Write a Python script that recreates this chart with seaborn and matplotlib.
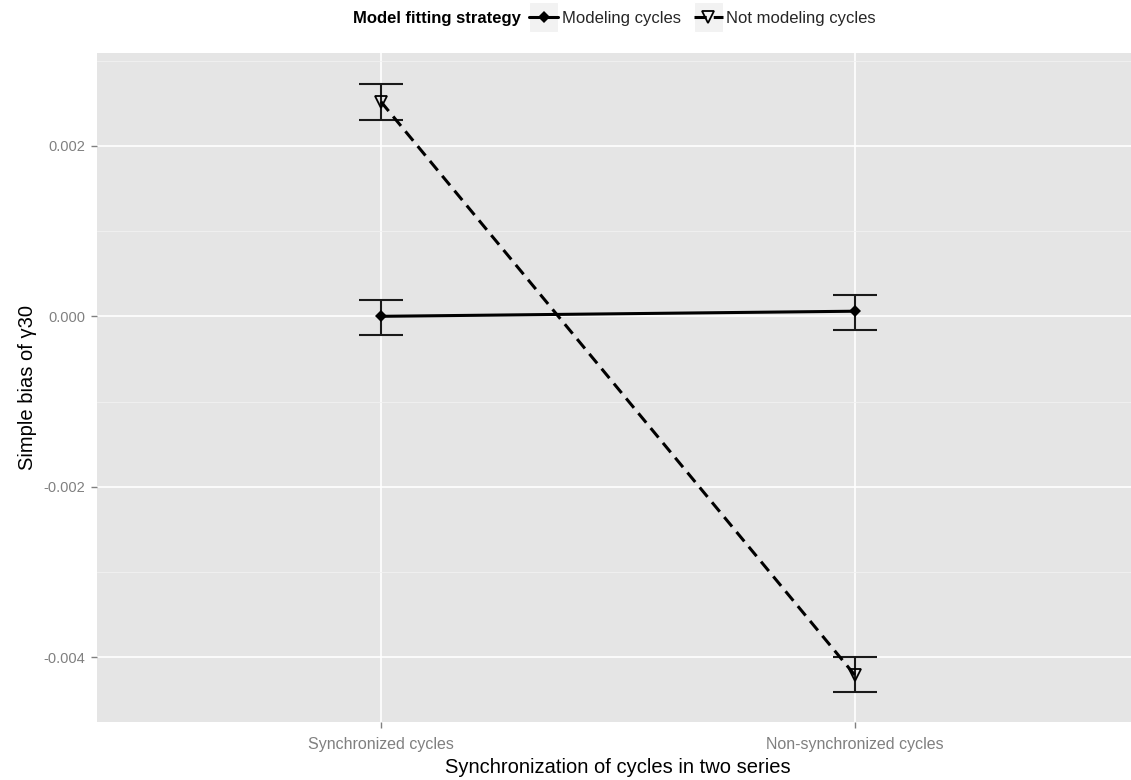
import matplotlib
matplotlib.use("Agg")
import matplotlib.pyplot as plt
from matplotlib.lines import Line2D
from matplotlib.patches import Rectangle
from matplotlib.legend_handler import HandlerLine2D
from matplotlib.ticker import FixedLocator, FixedFormatter
import numpy as np
import pandas as pd
import seaborn as sns

# Simulation results: simple bias of gamma30 by synchronization and fitting strategy
categories = ["Synchronized cycles", "Non-synchronized cycles"]
strategies = ["Modeling cycles", "Not modeling cycles"]

modeling_bias = [0.00000, 0.00006]
modeling_lower = [-0.00022, -0.00016]
modeling_upper = [0.00019, 0.00025]

not_modeling_bias = [0.00252, -0.00421]
not_modeling_lower = [0.00230, -0.00441]
not_modeling_upper = [0.00273, -0.00400]

y_major = [-0.004, -0.002, 0.000, 0.002]
y_major_labels = ["-0.004", "-0.002", "0.000", "0.002"]
y_minor = [-0.003, -0.001, 0.001, 0.003]

df = pd.DataFrame({
    "sync": categories * 2,
    "strategy": [strategies[0]] * 2 + [strategies[1]] * 2,
    "bias": modeling_bias + not_modeling_bias,
    "lower": modeling_lower + not_modeling_lower,
    "upper": modeling_upper + not_modeling_upper,
})

sns.set_theme(style="white")
plt.rcParams["font.family"] = ["Liberation Sans", "DejaVu Sans"]

W, H, DPI = 1131, 780, 100
fig = plt.figure(figsize=(W / DPI, H / DPI), dpi=DPI)
left, right, top, bottom = 96.6, 1139.0, 53.0, 722.0
ax = fig.add_axes([left / W, 1 - bottom / H, (right - left) / W, (bottom - top) / H])
ax.set_facecolor("#E5E5E5")

# error bars first, so the lines and points sit on top
for strat in strategies:
    sub = df[df["strategy"] == strat]
    xpos = [categories.index(c) for c in sub["sync"]]
    yerr = np.vstack([sub["bias"] - sub["lower"], sub["upper"] - sub["bias"]])
    ax.errorbar(xpos, sub["bias"], yerr=yerr, fmt="none", ecolor="#1a1a1a",
                elinewidth=1.5, capsize=15.8, capthick=1.5, zorder=3)

sns.pointplot(data=df, x="sync", y="bias", hue="strategy", order=categories,
              hue_order=strategies, palette=["black", "black"],
              markers=["D", "v"], linestyles=["-", "--"], errorbar=None,
              legend=False, ax=ax)

for ln in ax.lines:
    if ln.get_marker() == "v":
        ln.set_markerfacecolor("none")
        ln.set_markeredgecolor("black")
        ln.set_markeredgewidth(1.3)
        ln.set_markersize(9)
        ln.set_linewidth(2.2)
        ln.set_dashes((4, 2.3))
        ln.set_zorder(4)
    elif ln.get_marker() == "D":
        ln.set_markersize(6)
        ln.set_markeredgewidth(0)
        ln.set_linewidth(2.2)
        ln.set_zorder(4)

ax.set_xlim(-0.6, 1.6)
ax.set_ylim(-0.004762, 0.003091)
ax.yaxis.set_major_locator(FixedLocator(y_major))
ax.yaxis.set_major_formatter(FixedFormatter(y_major_labels))
ax.yaxis.set_minor_locator(FixedLocator(y_minor))

ax.grid(True, which="major", color="white", linewidth=1.2, zorder=0)
ax.grid(True, which="minor", axis="y", color="#F2F2F2", linewidth=0.6, zorder=0)
ax.set_axisbelow(True)
for s in ax.spines.values():
    s.set_visible(False)

ax.tick_params(axis="both", which="major", length=4, width=1, color="#808080",
               labelcolor="#808080", left=True, bottom=True)
ax.tick_params(axis="y", which="major", pad=4, labelsize=10.5)
ax.tick_params(axis="x", which="major", pad=7, labelsize=11.5)
ax.tick_params(which="minor", length=0)

ax.set_xlabel("Synchronization of cycles in two series", fontsize=14.5, color="black", labelpad=4)
ax.set_ylabel("Simple bias of γ30", fontsize=14.5, color="black", labelpad=5)


class KeyHandler(HandlerLine2D):
    """Legend key drawn on a light square, ggplot style."""
    def create_artists(self, legend, orig_handle, xdescent, ydescent,
                       width, height, fontsize, trans):
        cy = height / 2 - ydescent
        half = 10.8
        rect = Rectangle((-xdescent, cy - half), width, 2 * half,
                         facecolor="#F2F2F2", edgecolor="white", linewidth=0.8,
                         transform=trans)
        arts = super().create_artists(legend, orig_handle, xdescent, ydescent,
                                      width, height, fontsize, trans)
        return [rect] + arts


handles = [
    Line2D([], [], color="black", linestyle="-", linewidth=2.2, marker="D",
           markersize=6, markeredgewidth=0),
    Line2D([], [], color="black", linestyle="--", linewidth=2.2, dashes=(4, 2.3),
           marker="v", markersize=9, markerfacecolor="none",
           markeredgecolor="black", markeredgewidth=1.3),
]

fig.text(353 / W, 1 - 18 / H, "Model fitting strategy", fontsize=12,
         fontweight="bold", color="black", ha="left", va="center")
leg = fig.legend(handles, strategies, loc="center left",
                 bbox_to_anchor=(529 / W, 1 - 18 / H), ncol=2, frameon=False,
                 fontsize=12, handlelength=1.75, handletextpad=0.2,
                 columnspacing=0.8, borderpad=0, borderaxespad=0,
                 handler_map={Line2D: KeyHandler()})

fig.savefig("out.png", dpi=DPI, facecolor="white")
